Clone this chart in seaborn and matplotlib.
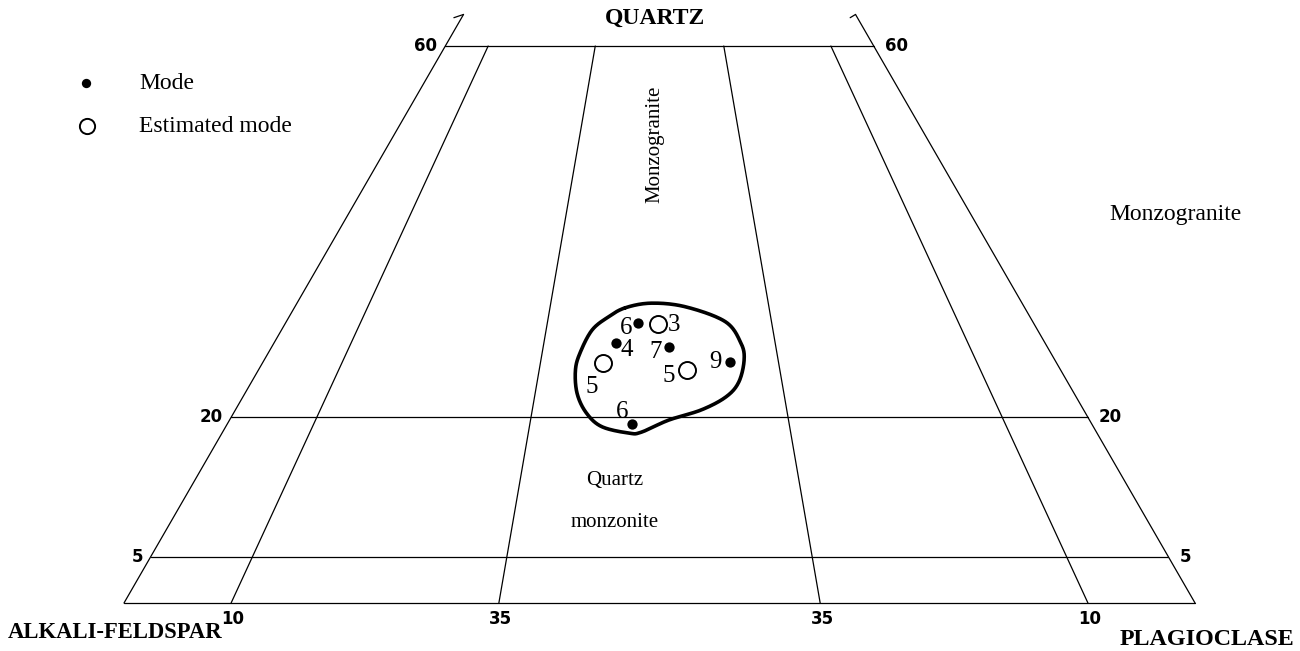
import numpy as np
import pandas as pd
import matplotlib
matplotlib.use("Agg")
import matplotlib.pyplot as plt
import seaborn as sns

# Modal compositions (volume %), quartz and plagioclase; alkali feldspar is the remainder
quartz = [30.2, 30.1, 28.0, 27.6, 25.9, 25.1, 26.0, 19.3]
plagioclase = [32.9, 34.8, 31.9, 37.1, 31.8, 40.0, 43.6, 37.8]
kind = ["Mode", "Estimated mode", "Mode", "Mode",
        "Estimated mode", "Estimated mode", "Mode", "Mode"]
sample_count = ["6", "3", "4", "7", "5", "5", "9", "6"]
# where each count sits relative to its symbol (pixels)
count_offset = [(-12, -5), (16, -1), (11, -7), (-14, -5),
                (-12, -24), (-18, -6), (-15, 0), (-10, 12)]

# Outline enclosing the samples (quartz %, plagioclase %)
outline_q = [31.8, 32.3, 31.9, 30.3, 28.0, 26.2, 23.8, 22.2, 20.8, 19.7,
             18.4, 18.3, 19.0, 20.5, 22.6, 25.1, 27.0, 29.4, 30.8]
outline_p = [30.9, 33.1, 36.5, 41.0, 43.6, 44.8, 45.5, 45.1, 43.5, 41.0,
             39.1, 38.0, 35.1, 32.9, 31.0, 29.6, 29.1, 29.0, 29.8]

# QAP grid: quartz levels and plagioclase/(alkali feldspar + plagioclase) ratios
quartz_levels = [60, 20, 5]
plag_ratios = [10, 35, 65, 90]
ratio_labels = ["10", "35", "35", "10"]


def tern(q, p):
    """Quartz/plagioclase percentages -> planar coordinates (x, quartz)."""
    q = np.asarray(q, float)
    p = np.asarray(p, float)
    return p + q / 2.0, q


def closed_spline(xs, ys, n=24):
    pts = np.column_stack([xs, ys])
    m = len(pts)
    t = np.linspace(0, 1, n, endpoint=False)[:, None]
    segs = []
    for i in range(m):
        p0, p1, p2, p3 = pts[(i - 1) % m], pts[i], pts[(i + 1) % m], pts[(i + 2) % m]
        segs.append(0.5 * (2 * p1 + (-p0 + p2) * t
                           + (2 * p0 - 5 * p1 + 4 * p2 - p3) * t ** 2
                           + (-p0 + 3 * p1 - 3 * p2 + p3) * t ** 3))
    out = np.vstack(segs)
    return np.vstack([out, out[:1]])


sns.set_theme(style="white")
plt.rcParams["font.family"] = ["Liberation Serif", "DejaVu Serif"]
plt.rcParams["text.color"] = "black"

fig = plt.figure(figsize=(13, 6.51), dpi=100)
ax = fig.add_axes([0, 0, 1, 1])
ax.set_xlim(-11.578, 109.80)
ax.set_ylim(-5.171, 64.957)
ax.axis("off")

lw = 0.9
sans = dict(family=["DejaVu Sans"], fontweight="bold", fontsize=12)

# triangle edges, truncated above Q = 60 with break marks
top_q = 63.4
lx, ly = tern([0, top_q], [0, 0])
ax.plot(lx, ly, color="black", lw=lw)
rx, ry = tern([0, top_q], [100, 100 - top_q])
ax.plot(rx, ry, color="black", lw=lw)
ax.plot([lx[1], lx[1] - 0.9], [ly[1], ly[1] - 0.35], color="black", lw=lw)
ax.plot([rx[1], rx[1] - 0.5], [ry[1], ry[1] - 0.35], color="black", lw=lw)
bx, by = tern([0, 0], [0, 100])
ax.plot(bx, by, color="black", lw=lw)

# horizontal quartz levels with their labels
for q in quartz_levels:
    hx, hy = tern([q, q], [0, 100 - q])
    ax.plot(hx, hy, color="black", lw=lw)
    ax.annotate(str(q), (hx[0], hy[0]), xytext=(-8, 0), textcoords="offset pixels",
                ha="right", va="center", **sans)
    ax.annotate(str(q), (hx[1], hy[1]), xytext=(11, 0), textcoords="offset pixels",
                ha="left", va="center", **sans)

# radial field boundaries from the quartz apex, drawn up to Q = 60
for r, lab in zip(plag_ratios, ratio_labels):
    qs = np.array([0, 60])
    fx, fy = tern(qs, (100 - qs) * r / 100)
    ax.plot(fx, fy, color="black", lw=lw)
    ax.annotate(lab, (fx[0], fy[0]), xytext=(2, -16), textcoords="offset pixels",
                ha="center", va="center", **sans)

# sample outline
ox, oy = tern(outline_q, outline_p)
curve = closed_spline(ox, oy)
ax.plot(curve[:, 0], curve[:, 1], color="black", lw=2.6, solid_capstyle="round")

# samples
px, py = tern(quartz, plagioclase)
df = pd.DataFrame({"x": px, "y": py, "kind": kind, "n": sample_count})
modes = df[df["kind"] == "Mode"]
est = df[df["kind"] == "Estimated mode"]
sns.scatterplot(data=modes, x="x", y="y", ax=ax, color="black", s=55,
                edgecolor="black", linewidth=0, legend=False, zorder=5)
sns.scatterplot(data=est, x="x", y="y", ax=ax, facecolor="white", s=150,
                edgecolor="black", linewidth=1.4, legend=False, zorder=5)
for (xx, yy, n), (dx, dy) in zip(df[["x", "y", "n"]].values, count_offset):
    ax.annotate(n, (xx, yy), xytext=(dx, dy), textcoords="offset pixels",
                ha="center", va="center", fontsize=18, zorder=6)

# field names and apex labels
ax.text(0.504, 0.972, "QUARTZ", transform=ax.transAxes, ha="center", va="center",
        fontsize=17, fontweight="bold")
ax.text(0.006, 0.028, "ALKALI-FELDSPAR", transform=ax.transAxes, ha="left",
        va="center", fontsize=16.3, fontweight="bold")
ax.text(0.996, 0.018, "PLAGIOCLASE", transform=ax.transAxes, ha="right",
        va="center", fontsize=17.3, fontweight="bold")
ax.text(0.504, 0.778, "Monzogranite", transform=ax.transAxes, ha="center",
        va="center", rotation=90, fontsize=15)
ax.text(0.904, 0.670, "Monzogranite", transform=ax.transAxes, ha="center",
        va="center", fontsize=17)
ax.text(0.473, 0.262, "Quartz", transform=ax.transAxes, ha="center",
        va="center", fontsize=15)
ax.text(0.473, 0.198, "monzonite", transform=ax.transAxes, ha="center",
        va="center", fontsize=15)

# key
ax.scatter([0.066], [0.873], transform=ax.transAxes, s=45, color="black", lw=0)
ax.scatter([0.067], [0.806], transform=ax.transAxes, s=120, facecolor="white",
           edgecolor="black", lw=1.4)
ax.text(0.107, 0.871, "Mode", transform=ax.transAxes, ha="left", va="center",
        fontsize=17)
ax.text(0.107, 0.806, "Estimated mode", transform=ax.transAxes, ha="left",
        va="center", fontsize=17)

fig.savefig("out.png", dpi=100, facecolor="white")
